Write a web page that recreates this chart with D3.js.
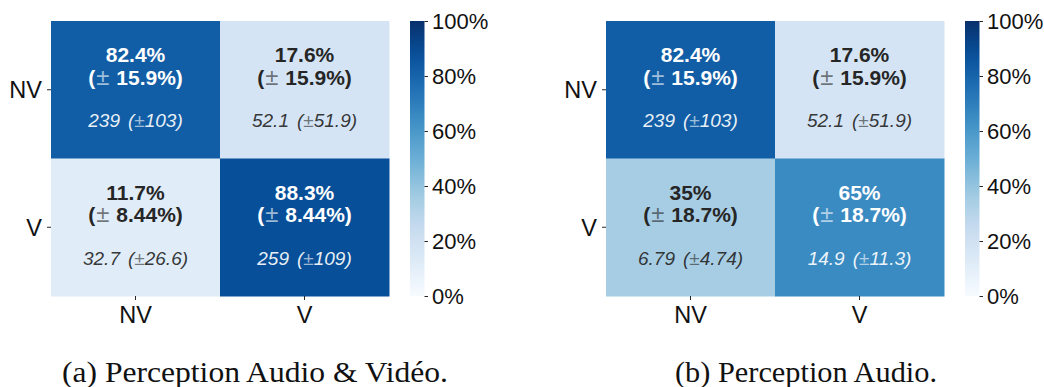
<!DOCTYPE html>
<html>
<head>
<meta charset="utf-8">
<script src="https://cdn.jsdelivr.net/npm/d3@7"></script>
<style>
  html, body { margin: 0; padding: 0; background: #fff; }
  svg { display: block; font-family: "Liberation Sans", Arial, sans-serif; }
</style>
</head>
<body>
<svg id="chart" width="1044" height="387"></svg>
<script>
// Class labels shared by both confusion matrices
const classes = ["NV", "V"];

// (a) Audio + video perception: row-normalised rates, their std, raw counts, their std
const pctA      = [[82.4, 17.6], [11.7, 88.3]];
const pctErrA   = [[15.9, 15.9], [8.44, 8.44]];
const countA    = [[239, 52.1], [32.7, 259]];
const countErrA = [[103, 51.9], [26.6, 109]];

// (b) Audio-only perception
const pctB      = [[82.4, 17.6], [35, 65]];
const pctErrB   = [[15.9, 15.9], [18.7, 18.7]];
const countB    = [[239, 52.1], [6.79, 14.9]];
const countErrB = [[103, 51.9], [4.74, 11.3]];

// Colour bar ticks (percent)
const barTicks = [0, 20, 40, 60, 80, 100];

const captions = ["(a) Perception Audio & Vidéo.", "(b) Perception Audio."];

// Sequential "Blues" ramp with linear segments between the brewer stops
const bluesStops = ["#f7fbff", "#deebf7", "#c6dbef", "#9ecae1", "#6baed6",
                    "#4292c6", "#2171b5", "#08519c", "#08306b"];
const color = d3.scaleLinear()
  .domain(bluesStops.map((_, i) => i * 100 / (bluesStops.length - 1)))
  .range(bluesStops)
  .interpolate(d3.interpolateRgb)
  .clamp(true);

const svg = d3.select("#chart");
const defs = svg.append("defs");
const DARK = "#262626";
const SANS = "'Liberation Sans', Arial, sans-serif";
const SERIF = "'Liberation Serif', 'Times New Roman', serif";

const panels = [
  { id: "a", pct: pctA, pctErr: pctErrA, count: countA, countErr: countErrA,
    x0: 51, x1: 389, cb: 410, caption: captions[0], capX: 62, capW: 386 },
  { id: "b", pct: pctB, pctErr: pctErrB, count: countB, countErr: countErrB,
    x0: 606, x1: 944, cb: 965, caption: captions[1], capX: 675, capW: 262 }
];
const y0 = 21, y1 = 296;
const cbWidth = 14.5;

// Gradient for the colour bar, built from the colour scale
const grad = defs.append("linearGradient")
  .attr("id", "bluesGrad")
  .attr("x1", 0).attr("y1", 1).attr("x2", 0).attr("y2", 0);
d3.range(0, 101, 5).forEach(v => {
  grad.append("stop").attr("offset", v / 100).attr("stop-color", color(v));
});

panels.forEach(p => {
  const g = svg.append("g").attr("class", "panel-" + p.id);
  const x = d3.scaleBand().domain(classes).range([p.x0, p.x1]);
  const y = d3.scaleBand().domain(classes).range([y0, y1]);

  const cells = [];
  classes.forEach((r, i) => classes.forEach((c, j) => {
    cells.push({ row: r, col: c, pct: p.pct[i][j], pctErr: p.pctErr[i][j],
                 count: p.count[i][j], countErr: p.countErr[i][j] });
  }));

  g.selectAll("rect.cell").data(cells).join("rect")
    .attr("class", "cell")
    .attr("x", d => x(d.col))
    .attr("y", d => y(d.row))
    .attr("width", x.bandwidth() + 0.5)
    .attr("height", y.bandwidth() + 0.5)
    .attr("fill", d => color(d.pct));

  const labels = g.selectAll("g.lab").data(cells).join("g")
    .attr("class", "lab")
    .attr("transform", d => `translate(${x(d.col) + x.bandwidth() / 2},${y(d.row)})`)
    .attr("fill", d => d.pct >= 50 ? "#ffffff" : DARK);

  // Percentage line
  labels.append("text")
    .attr("y", 41)
    .attr("text-anchor", "middle")
    .attr("font-size", 21)
    .attr("font-weight", "bold")
    .text(d => d.pct + "%");

  // Percentage spread line
  const l2 = labels.append("text")
    .attr("y", 63.5)
    .attr("text-anchor", "middle")
    .attr("font-size", 21)
    .attr("font-weight", "bold");
  l2.append("tspan").text("(");
  l2.append("tspan").attr("font-weight", "normal").attr("font-size", 24)
    .attr("fill-opacity", 0.6).attr("dx", 1).text("±");
  l2.append("tspan").attr("dx", 7).text(d => d.pctErr + "%)");

  // Count line
  const l3 = labels.append("text")
    .attr("y", 106)
    .attr("text-anchor", "middle")
    .attr("font-size", 19)
    .attr("font-style", "italic")
    .attr("fill-opacity", 0.92);
  l3.append("tspan").text(d => d.count);
  l3.append("tspan").attr("dx", 8).text("(");
  l3.append("tspan").attr("fill-opacity", 0.6).text("±");
  l3.append("tspan").text(d => d.countErr + ")");

  // Axes
  const yAxis = g.append("g")
    .attr("transform", `translate(${p.x0},0)`)
    .call(d3.axisLeft(y).tickSize(4).tickPadding(5));
  const xAxis = g.append("g")
    .attr("transform", `translate(0,${y1})`)
    .call(d3.axisBottom(x).tickSize(4).tickPadding(6));
  [yAxis, xAxis].forEach(ax => {
    ax.attr("font-family", null).attr("font-size", null);
    ax.select(".domain").remove();
    ax.selectAll(".tick line").attr("stroke", DARK).attr("stroke-width", 1);
    ax.selectAll(".tick text")
      .attr("fill", "#111")
      .style("font-size", "23.5px")
      .style("font-family", SANS);
  });
  yAxis.selectAll(".tick text").attr("dy", "0.36em");
  xAxis.selectAll(".tick text").attr("dy", "0.74em");

  // Colour bar
  const cbScale = d3.scaleLinear().domain([0, 100]).range([y1, y0]);
  g.append("rect")
    .attr("x", p.cb).attr("y", y0)
    .attr("width", cbWidth).attr("height", y1 - y0)
    .attr("fill", "url(#bluesGrad)");
  const cbAxis = g.append("g")
    .attr("transform", `translate(${p.cb + cbWidth},0)`)
    .call(d3.axisRight(cbScale).tickValues(barTicks).tickSize(3.5).tickPadding(4)
      .tickFormat(d => d + "%"));
  cbAxis.attr("font-family", null).attr("font-size", null);
  cbAxis.select(".domain").remove();
  cbAxis.selectAll(".tick line").attr("stroke", DARK);
  cbAxis.selectAll(".tick text")
    .attr("fill", "#111")
    .style("font-size", "22px")
    .style("font-family", SANS)
    .attr("dy", "0.36em");

  // Caption
  svg.append("text")
    .attr("x", p.capX).attr("y", 382)
    .style("font-family", SERIF)
    .style("font-size", "29px")
    .attr("fill", "#111")
    .attr("textLength", p.capW)
    .attr("lengthAdjust", "spacingAndGlyphs")
    .text(p.caption);
});
</script>
</body>
</html>
